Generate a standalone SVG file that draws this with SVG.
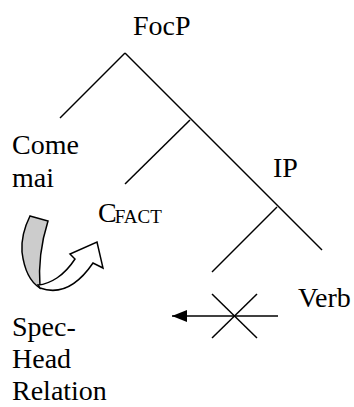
<svg xmlns="http://www.w3.org/2000/svg" width="354" height="407" viewBox="0 0 354 407">
<style>
.ln{stroke:#000;stroke-width:1.5;fill:none}
.sh{stroke:#000;stroke-width:1.5}
</style>
<defs>
<marker id="ah" markerWidth="16" markerHeight="14" refX="15" refY="7" orient="auto" markerUnits="userSpaceOnUse">
<path d="M0,1 L15,7 L0,13 Z" fill="#000"/>
</marker>
</defs>
<rect width="354" height="407" fill="#fff"/>
<g id="connectors" class="ln">
<line x1="125" y1="53" x2="322" y2="250"/>
<line x1="125" y1="53" x2="60" y2="118"/>
<line x1="190" y1="120" x2="125" y2="184"/>
<line x1="277" y1="207" x2="212" y2="272"/>
<line x1="212" y1="294" x2="257" y2="338"/>
<line x1="257" y1="294" x2="212" y2="338"/>
<line x1="278" y1="316" x2="172" y2="316" marker-end="url(#ah)"/>
</g>
<g id="FocP"><text x="133" y="35" font-family="Liberation Serif, serif" font-size="28">FocP</text></g>
<g id="ComeMai"><text x="12" y="154" font-family="Liberation Serif, serif" font-size="28">Come</text><text x="12" y="187" font-family="Liberation Serif, serif" font-size="28">mai</text></g>
<g id="IP"><text x="273" y="177" font-family="Liberation Serif, serif" font-size="28">IP</text></g>
<g id="CFACT"><text x="98" y="222" font-family="Liberation Serif, serif" font-size="28">C<tspan font-size="19" dx="-2" dy="1">FACT</tspan></text></g>
<g id="Verb"><text x="298" y="307" font-family="Liberation Serif, serif" font-size="28">Verb</text></g>
<g id="SpecHead"><text x="12" y="336" font-family="Liberation Serif, serif" font-size="28">Spec-</text><text x="12" y="368" font-family="Liberation Serif, serif" font-size="28">Head</text><text x="12" y="400" font-family="Liberation Serif, serif" font-size="28">Relation</text></g>
<g id="curvedArrow" class="sh">
<path d="M30,216 L48,221 C42,240 38,262 40,288 C30,282 24,268 22,252 C21,238 25,226 30,216 Z" fill="#cccccc"/>
<path d="M38,285 C50,284 64,276 75,259 L70,254 L97,242 L103,268 L93,263 C80,282 62,296 40,288 Z" fill="#fff"/>
</g>
</svg>
